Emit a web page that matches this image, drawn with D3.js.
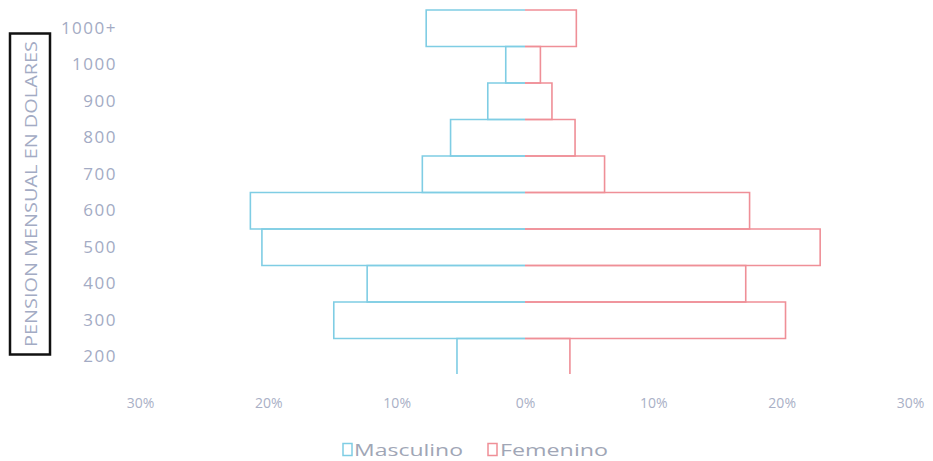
<!DOCTYPE html>
<html>
<head>
<meta charset="utf-8">
<script src="https://cdn.jsdelivr.net/npm/d3@7/dist/d3.min.js"></script>
<style>
  html, body { margin: 0; padding: 0; background: #ffffff; }
  svg { display: block; }
  text { font-family: "Open Sans", "DejaVu Sans", sans-serif; }
</style>
</head>
<body>
<svg id="chart" width="933" height="461"></svg>
<script>
// Pension brackets (USD per month), bottom to top
const categories = ["200", "300", "400", "500", "600", "700", "800", "900", "1000", "1000+"];
// Share of pensioners in each bracket (%)
const masculino = [5.3, 14.9, 12.3, 20.5, 21.4, 8.0, 5.8, 2.9, 1.5, 7.7];
const femenino  = [3.5, 20.3, 17.2, 23.0, 17.5, 6.2, 3.9, 2.1, 1.2, 4.0];
const xTicks = [-30, -20, -10, 0, 10, 20, 30];
const seriesNames = ["Masculino", "Femenino"];
const seriesColors = ["#7fcde4", "#ef8f97"];

const svg = d3.select("#chart");

const x = d3.scaleLinear().domain([-30, 30]).range([140, 910]);
const y = d3.scaleBand().domain(categories).range([375, 10]).padding(0);

// plot area clip (bottom edge of the lowest bracket falls outside)
svg.append("defs").append("clipPath").attr("id", "plotClip")
  .append("rect").attr("x", 0).attr("y", 0).attr("width", 933).attr("height", 374);

const line = d3.line();
const plot = svg.append("g").attr("clip-path", "url(#plotClip)");

// each bar is a three-sided outline, open at the 0% line
function barPath(cat, value, sign) {
  const y0 = y(cat), y1 = y(cat) + y.bandwidth();
  const x0 = x(0), x1 = x(sign * value);
  return line([[x0, y0], [x1, y0], [x1, y1], [x0, y1]]);
}

plot.selectAll("path.m").data(categories).join("path")
  .attr("class", "m")
  .attr("d", (c, i) => barPath(c, masculino[i], -1))
  .attr("fill", "none")
  .attr("stroke", seriesColors[0])
  .attr("stroke-width", 1.6);

plot.selectAll("path.f").data(categories).join("path")
  .attr("class", "f")
  .attr("d", (c, i) => barPath(c, femenino[i], 1))
  .attr("fill", "none")
  .attr("stroke", seriesColors[1])
  .attr("stroke-width", 1.6);

// x axis: absolute percentages on both sides
const xAxis = svg.append("g")
  .attr("transform", "translate(0,395)")
  .call(d3.axisBottom(x).tickValues(xTicks).tickSize(0).tickPadding(3)
    .tickFormat(d => Math.abs(d) + "%"));
xAxis.select(".domain").remove();
xAxis.selectAll("text")
  .attr("fill", "#a9b0c6")
  .style("font-size", "14px")
  .style("font-family", "'Open Sans', sans-serif");

// y axis: bracket labels
const yAxis = svg.append("g")
  .attr("transform", "translate(120,0)")
  .call(d3.axisLeft(y).tickSize(0).tickPadding(3));
yAxis.select(".domain").remove();
yAxis.selectAll("text")
  .attr("fill", "#a3abc4")
  .style("font-size", "17px")
  .style("letter-spacing", "1.5px")
  .style("font-family", "'Open Sans', sans-serif");

// y axis title in a framed box
svg.append("rect")
  .attr("x", 10).attr("y", 33.5)
  .attr("width", 40).attr("height", 321)
  .attr("fill", "none")
  .attr("stroke", "#111111")
  .attr("stroke-width", 2.5);

svg.append("text")
  .attr("transform", "translate(37,194) rotate(-90)")
  .attr("text-anchor", "middle")
  .attr("fill", "#a3abc4")
  .attr("textLength", 306)
  .attr("lengthAdjust", "spacingAndGlyphs")
  .style("font-size", "17px")
  .text("PENSION MENSUAL EN DOLARES");

// legend
const legendX = [343, 488];
const legendText = [[354, 109], [500, 108]];
const legend = svg.append("g");
seriesNames.forEach((name, i) => {
  legend.append("rect")
    .attr("x", legendX[i]).attr("y", 443.5)
    .attr("width", 9).attr("height", 12)
    .attr("fill", "none")
    .attr("stroke", seriesColors[i])
    .attr("stroke-width", 1.5);
  legend.append("text")
    .attr("x", legendText[i][0]).attr("y", 456)
    .attr("textLength", legendText[i][1])
    .attr("lengthAdjust", "spacingAndGlyphs")
    .attr("fill", "#a0a6b6")
    .style("font-size", "17px")
    .text(name);
});
</script>
</body>
</html>
